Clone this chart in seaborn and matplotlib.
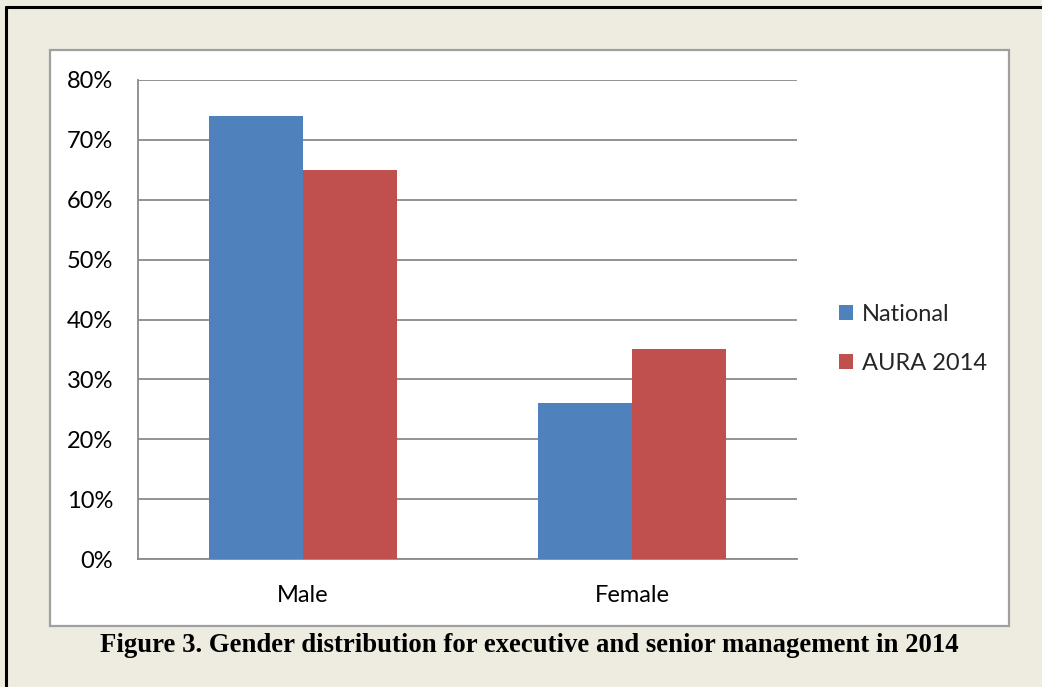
import matplotlib
matplotlib.use("Agg")
import matplotlib.pyplot as plt
import seaborn as sns
import pandas as pd
from matplotlib.patches import Rectangle
from matplotlib.lines import Line2D
from matplotlib.ticker import FuncFormatter, MultipleLocator

categories = ["Male", "Female"]
series_names = ["National", "AURA 2014"]
national = [74, 26]
aura = [65, 35]
caption = "Figure 3. Gender distribution for executive and senior management in 2014"

df = pd.DataFrame({
    "Gender": categories * 2,
    "Series": [series_names[0]] * 2 + [series_names[1]] * 2,
    "Value": national + aura,
})

sns.set_style("white")
plt.rcParams["font.family"] = ["Lato", "DejaVu Sans"]

W, H = 1042, 687
fig = plt.figure(figsize=(W / 100, H / 100), dpi=100)
fig.patch.set_facecolor("#EEECE1")

def fx(x):
    return x / W

def fy(y):
    return 1 - y / H

# outer black border (left and top)
fig.add_artist(Line2D([fx(6), fx(6)], [fy(7), 0], color="black", lw=2.2, transform=fig.transFigure))
fig.add_artist(Line2D([fx(6), 1], [fy(7), fy(7)], color="black", lw=2.2, transform=fig.transFigure))

# white chart box
fig.add_artist(Rectangle((fx(50), fy(626)), fx(1009) - fx(50), fy(50) - fy(626),
                         transform=fig.transFigure, facecolor="white",
                         edgecolor="#A0A0A0", lw=1.6, zorder=0))

ax = fig.add_axes([fx(138), fy(559), fx(797) - fx(138), fy(80) - fy(559)])
ax.set_facecolor("white")

palette = {"National": "#4F81BD", "AURA 2014": "#C0504D"}
sns.barplot(data=df, x="Gender", y="Value", hue="Series", order=categories,
            hue_order=series_names, palette=palette, width=0.57, saturation=1,
            edgecolor="none", linewidth=0, ax=ax, zorder=3)

ax.set_ylim(0, 80)
ax.set_xlim(-0.5, 1.5)
ax.yaxis.set_major_locator(MultipleLocator(10))
ax.yaxis.set_major_formatter(FuncFormatter(lambda v, p: f"{int(v)}%"))
ax.grid(axis="y", color="#8A8A8A", lw=1.3, zorder=0)
ax.set_axisbelow(True)
for s in ["top", "right"]:
    ax.spines[s].set_visible(False)
for s in ["left", "bottom"]:
    ax.spines[s].set_color("#8A8A8A")
    ax.spines[s].set_linewidth(1.3)
ax.tick_params(axis="y", length=0, pad=18, labelsize=17, labelcolor="black")
ax.tick_params(axis="x", length=0, pad=19, labelsize=17, labelcolor="black")
ax.set_xlabel("")
ax.set_ylabel("")

leg = ax.legend(loc="center left", bbox_to_anchor=(fx(839), fy(339)),
                bbox_transform=fig.transFigure, frameon=False, fontsize=17,
                handlelength=0.6, handleheight=0.6, handletextpad=0.38,
                labelspacing=1.2, borderaxespad=0, borderpad=0)

fig.text(fx(529), fy(652), caption, ha="center", va="baseline", color="black",
         family=["Liberation Serif", "DejaVu Serif"], weight="bold", fontsize=19.3)

fig.savefig("out.png", dpi=100, facecolor=fig.get_facecolor())
